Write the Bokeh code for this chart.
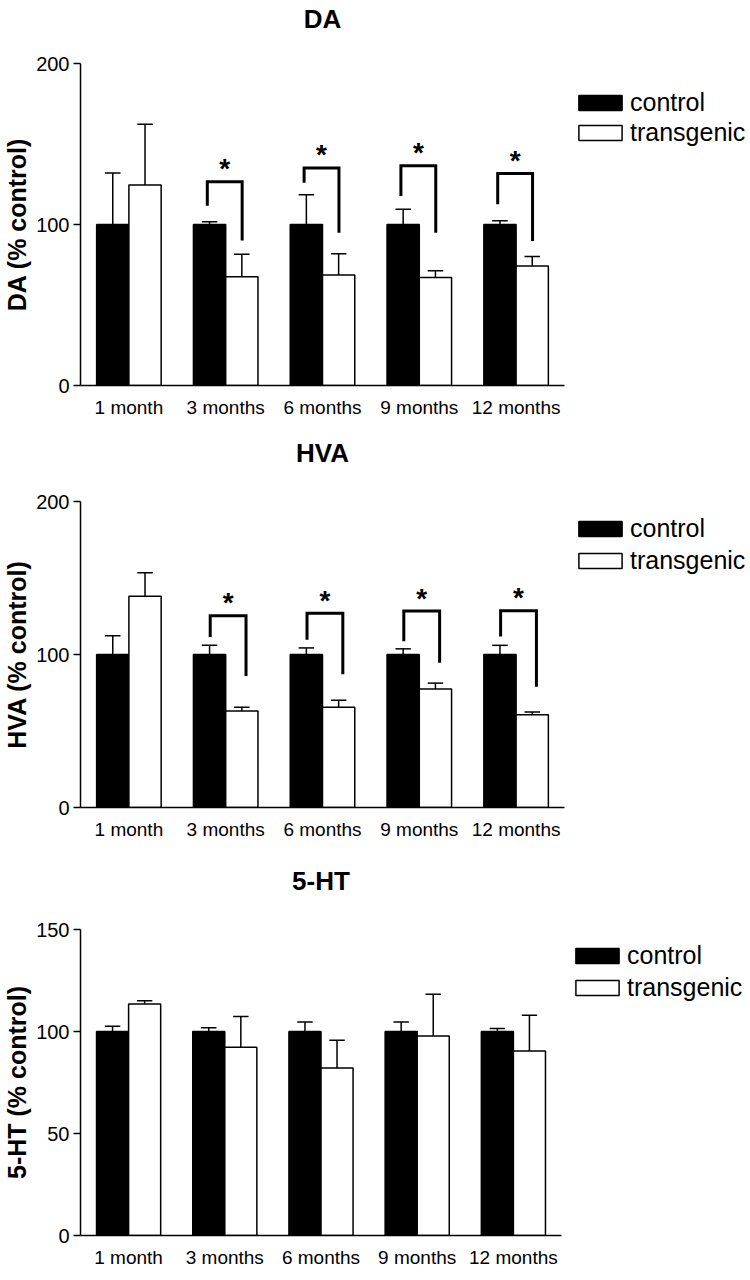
from bokeh.plotting import figure
from bokeh.layouts import column
from bokeh.models import Range1d, FixedTicker, Legend, LegendItem, LinearAxis
from bokeh.embed import file_html
from bokeh.resources import INLINE
from bokeh.core.properties import value

months = ["1 month", "3 months", "6 months", "9 months", "12 months"]
series_names = ["control", "transgenic"]

# DA (% control): means and SEM (upper error bar)
da_control = [100, 100, 100, 100, 100]
da_control_sem = [32.0, 1.7, 18.5, 9.5, 2.4]
da_transgenic = [124.5, 67.6, 68.6, 67.1, 74.3]
da_transgenic_sem = [37.8, 13.9, 13.3, 4.1, 5.9]
# significance brackets (index of month, left leg bottom, bracket top, right leg bottom)
da_sig_month = [1, 2, 3, 4]
da_sig_left = [111.6, 125.9, 117.7, 112.6]
da_sig_top = [126.5, 135.1, 136.5, 131.6]
da_sig_right = [90.0, 94.8, 94.8, 89.7]

# HVA (% control)
hva_control = [100, 100, 100, 100, 100]
hva_control_sem = [12.3, 6.0, 4.3, 3.7, 6.0]
hva_transgenic = [138.1, 63.0, 65.6, 77.4, 60.6]
hva_transgenic_sem = [15.4, 2.6, 4.5, 3.9, 1.8]
hva_sig_month = [1, 2, 3, 4]
hva_sig_left = [111.4, 109.7, 108.6, 111.8]
hva_sig_top = [125.4, 126.9, 128.4, 128.6]
hva_sig_right = [86.0, 87.1, 94.6, 78.9]

# 5-HT (% control)
ht_control = [100, 100, 100, 100, 100]
ht_control_sem = [2.6, 1.8, 4.6, 4.6, 1.5]
ht_transgenic = [113.5, 92.3, 82.1, 97.8, 90.5]
ht_transgenic_sem = [1.6, 15.0, 13.6, 20.5, 17.5]

FONT = "Liberation Sans"
TOTAL_W = 740


def make_panel(title, ylabel, ymax, yticks, ctrl, ctrl_sem, trans, trans_sem,
               sig_month, sig_left, sig_top, sig_right,
               fl, fw, ft, fh, figh, title_gap, leg_top, pitch, loff, roff):
    p = figure(frame_width=fw, frame_height=fh,
               min_border_left=fl, min_border_right=TOTAL_W - fl - fw,
               min_border_top=ft, min_border_bottom=figh - ft - fh,
               x_range=Range1d(0, len(months)), y_range=Range1d(0, ymax),
               output_backend="svg", toolbar_location=None)
    p.outline_line_color = None
    p.xgrid.visible = False
    p.ygrid.visible = False
    p.background_fill_color = "white"
    p.border_fill_color = "white"

    bw = 1.0 / 3.0
    xc = [i + 0.5 - bw / 2 for i in range(len(months))]
    xt = [i + 0.5 + bw / 2 for i in range(len(months))]

    r_c = p.vbar(x=xc, top=ctrl, bottom=0, width=bw, fill_color="black",
                 line_color="black", line_width=1.5)
    r_t = p.vbar(x=xt, top=trans, bottom=0, width=bw, fill_color="white",
                 line_color="black", line_width=1.5)

    cap = 0.08
    for xs, m, s in ((xc, ctrl, ctrl_sem), (xt, trans, trans_sem)):
        tops = [a + b for a, b in zip(m, s)]
        p.segment(x0=xs, y0=m, x1=xs, y1=tops, line_color="black", line_width=1.5)
        p.segment(x0=[x - cap for x in xs], y0=tops, x1=[x + cap for x in xs], y1=tops,
                  line_color="black", line_width=1.5)

    if sig_month:
        bxs, bys, sx, sy = [], [], [], []
        for i, lb, tp, rb in zip(sig_month, sig_left, sig_top, sig_right):
            xl = i + 0.5 + loff
            xr = i + 0.5 + roff
            bxs.append([xl, xl, xr, xr])
            bys.append([lb, tp, tp, rb])
            sx.append((xl + xr) / 2)
            sy.append(tp)
        p.multi_line(xs=bxs, ys=bys, line_color="black", line_width=3,
                     line_join="miter", line_cap="butt")
        p.text(x=sx, y=sy, text=["*"] * len(sx), text_align="center",
               text_baseline="alphabetic", y_offset=-13,
               text_font=value(FONT), text_font_style="bold",
               text_font_size="28px", text_color="black")

    # axes
    p.xaxis.ticker = FixedTicker(ticks=[i + 0.5 for i in range(len(months))])
    p.xaxis.major_label_overrides = {i + 0.5: m for i, m in enumerate(months)}
    p.xaxis.major_tick_line_color = None
    p.xaxis.major_tick_out = 0
    p.xaxis.major_tick_in = 0
    p.xaxis.minor_tick_line_color = None
    p.xaxis.major_label_standoff = 11
    p.xaxis.major_label_text_font = FONT
    p.xaxis.major_label_text_font_size = "19px"
    p.xaxis.major_label_text_color = "black"
    p.xaxis.axis_line_width = 1.5
    p.xaxis.axis_line_color = "black"

    p.yaxis.ticker = FixedTicker(ticks=yticks)
    p.yaxis.minor_tick_line_color = None
    p.yaxis.major_tick_out = 7
    p.yaxis.major_tick_in = 0
    p.yaxis.major_tick_line_width = 1.5
    p.yaxis.major_tick_line_color = "black"
    p.yaxis.major_label_standoff = 4
    p.yaxis.major_label_text_font = FONT
    p.yaxis.major_label_text_font_size = "20px"
    p.yaxis.major_label_text_color = "black"
    p.yaxis.axis_line_width = 1.5
    p.yaxis.axis_line_color = "black"
    p.yaxis.axis_label = ylabel
    p.yaxis.axis_label_text_font = FONT
    p.yaxis.axis_label_text_font_style = "bold"
    p.yaxis.axis_label_text_font_size = "25px"
    p.yaxis.axis_label_text_color = "black"
    p.yaxis.axis_label_standoff = 2

    # panel title: label of a bare axis above the frame (exact gap control)
    tax = LinearAxis(ticker=FixedTicker(ticks=[]), axis_line_color=None,
                     major_tick_line_color=None, minor_tick_line_color=None,
                     major_tick_out=0, major_tick_in=0, minor_tick_out=0,
                     major_label_text_font_size="0px",
                     axis_label=title, axis_label_standoff=title_gap,
                     axis_label_text_font=FONT, axis_label_text_font_style="bold",
                     axis_label_text_font_size="26px", axis_label_text_color="black")
    p.add_layout(tax, "above")

    # legend (outside the frame, on the right)
    lab_h = 28
    spacing = pitch - lab_h
    leg_h = 2 * lab_h + spacing
    legend = Legend(items=[LegendItem(label=series_names[0], renderers=[r_c]),
                           LegendItem(label=series_names[1], renderers=[r_t])],
                    location=(9, fh - leg_top - leg_h),
                    glyph_width=54, glyph_height=19, label_height=lab_h,
                    spacing=spacing, padding=0, margin=0, label_standoff=3,
                    label_text_font=FONT, label_text_font_size="25px",
                    label_text_color="black",
                    border_line_color=None, background_fill_alpha=0)
    p.add_layout(legend, "right")
    return p


p1 = make_panel("DA", "DA (% control)", 200, [0, 100, 200],
                da_control, da_control_sem, da_transgenic, da_transgenic_sem,
                da_sig_month, da_sig_left, da_sig_top, da_sig_right,
                78, 484, 60, 322, 423, 30, 27, 29, -0.19, 0.17)
p2 = make_panel("HVA", "HVA (% control)", 200, [0, 100, 200],
                hva_control, hva_control_sem, hva_transgenic, hva_transgenic_sem,
                hva_sig_month, hva_sig_left, hva_sig_top, hva_sig_right,
                78, 484, 75, 306, 422, 34, 15, 31, -0.16, 0.21)
p3 = make_panel("5-HT", "5-HT (% control)", 150, [0, 50, 100, 150],
                ht_control, ht_control_sem, ht_transgenic, ht_transgenic_sem,
                [], [], [], [],
                75, 481, 81, 306, 419, 34, 14, 31, -0.19, 0.17)

layout = column(p1, p2, p3, spacing=0)
open("out.html", "w").write(file_html(layout, INLINE))
